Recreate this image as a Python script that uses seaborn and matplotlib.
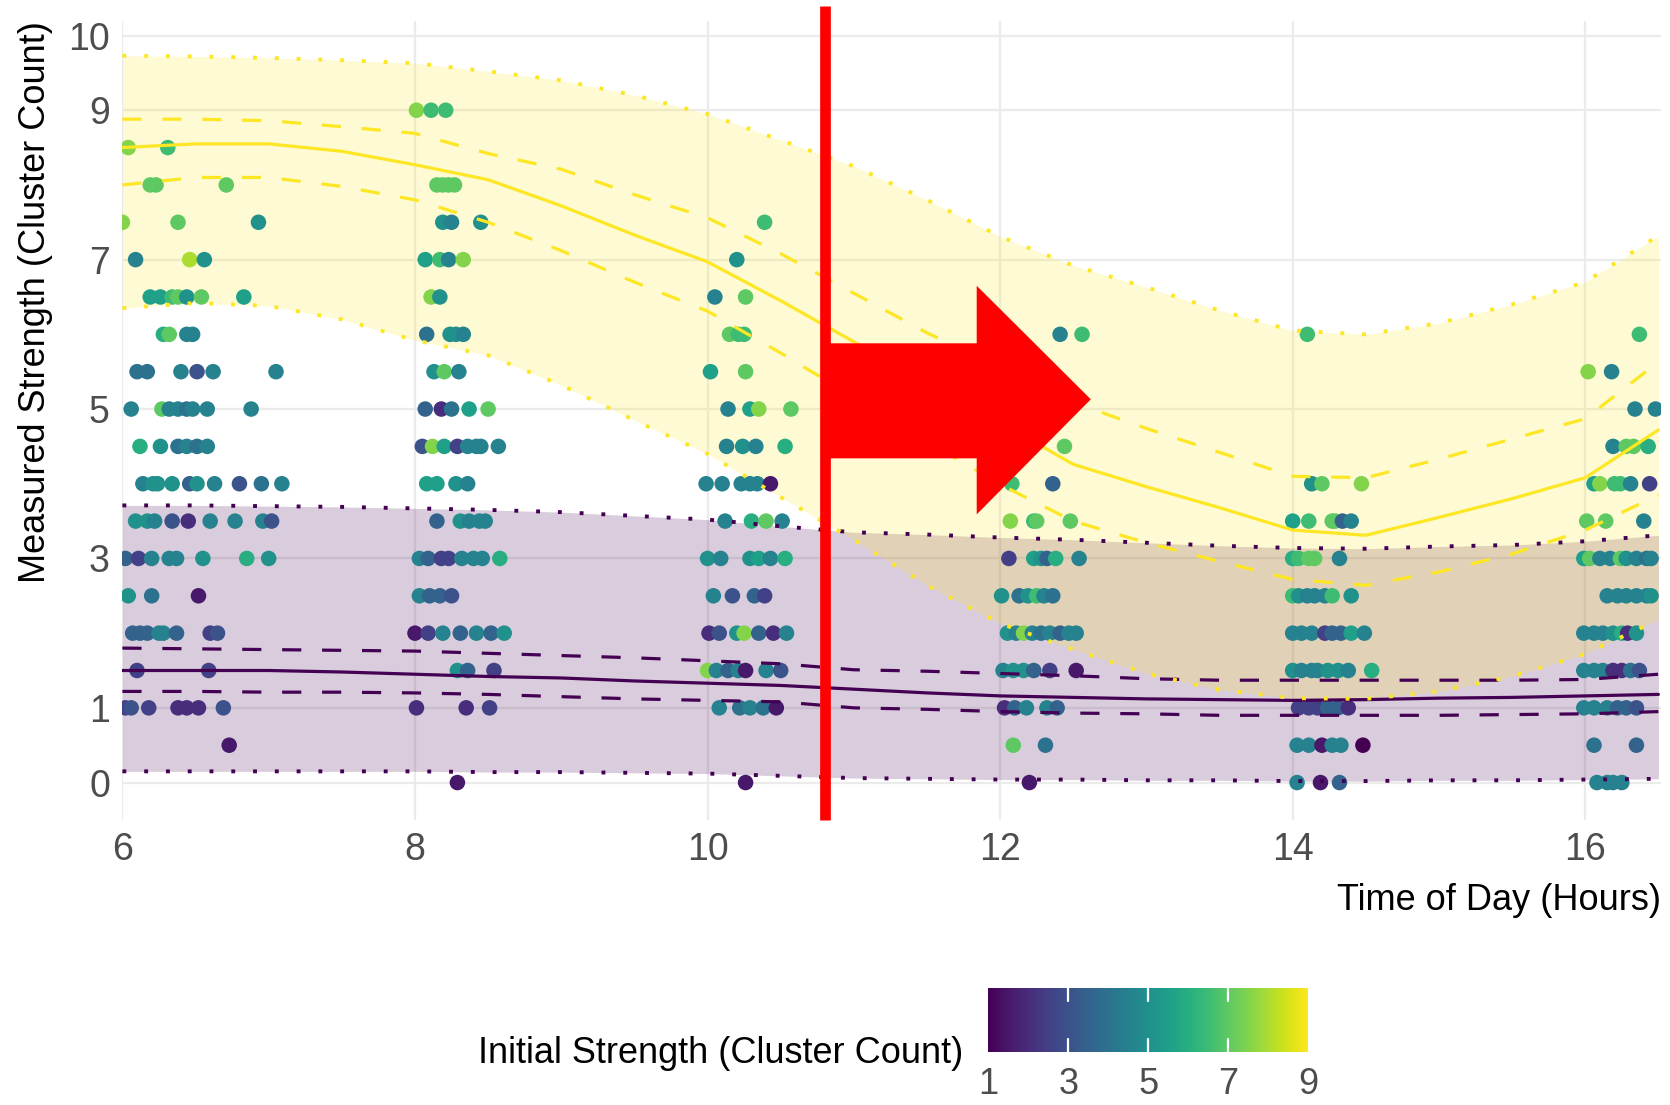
import numpy as np
import pandas as pd
import matplotlib
matplotlib.use("Agg")
from matplotlib import pyplot as plt
from matplotlib import font_manager
from matplotlib.patches import Polygon
from matplotlib.cm import ScalarMappable
from matplotlib.colors import Normalize
import seaborn as sns

# observations: (hour, measured strength, initial strength)
pts_06 = [(6.04, 8.5, 7.5), (6.31, 8.5, 6.5),
          (6.19, 8, 7), (6.23, 8, 7), (6.71, 8, 7),
          (6.0, 7.5, 7.5), (6.38, 7.5, 7), (6.93, 7.5, 5),
          (6.09, 7, 4.5), (6.46, 7, 8), (6.56, 7, 5),
          (6.19, 6.5, 5.5), (6.26, 6.5, 5.5), (6.34, 6.5, 6.5), (6.38, 6.5, 7), (6.44, 6.5, 5), (6.54, 6.5, 7), (6.83, 6.5, 5.5),
          (6.28, 6, 6), (6.32, 6, 7), (6.44, 6, 4.5), (6.48, 6, 4.5),
          (6.1, 5.5, 4), (6.17, 5.5, 4), (6.4, 5.5, 4.5), (6.51, 5.5, 3), (6.62, 5.5, 4.5), (7.05, 5.5, 4.5),
          (6.06, 5, 4.5), (6.27, 5, 7), (6.32, 5, 4.5), (6.38, 5, 4.5), (6.44, 5, 4), (6.48, 5, 4.5), (6.58, 5, 4.5), (6.88, 5, 4.5),
          (6.12, 4.5, 6), (6.26, 4.5, 5), (6.38, 4.5, 4), (6.44, 4.5, 4.5), (6.51, 4.5, 4), (6.58, 4.5, 4.5),
          (6.14, 4, 4.5), (6.21, 4, 5), (6.24, 4, 5), (6.34, 4, 5), (6.46, 4, 3.5), (6.51, 4, 5), (6.63, 4, 4.5), (6.8, 4, 3), (6.95, 4, 4), (7.09, 4, 4.5),
          (6.09, 3.5, 5), (6.17, 3.5, 5), (6.22, 3.5, 4.5), (6.34, 3.5, 3), (6.45, 3.5, 2), (6.6, 3.5, 4.5), (6.77, 3.5, 4.5), (6.96, 3.5, 4.5), (7.02, 3.5, 3),
          (6.02, 3, 3.5), (6.11, 3, 2.5), (6.2, 3, 4.5), (6.32, 3, 4.5), (6.37, 3, 4.5), (6.55, 3, 5), (6.85, 3, 6), (7.0, 3, 5),
          (6.04, 2.5, 5), (6.2, 2.5, 4), (6.52, 2.5, 1.5),
          (6.07, 2, 3.5), (6.12, 2, 3.5), (6.17, 2, 3.5), (6.25, 2, 4.5), (6.28, 2, 4.5), (6.37, 2, 3.5), (6.6, 2, 2.5), (6.65, 2, 3),
          (6.1, 1.5, 2.5), (6.59, 1.5, 2.5),
          (6.02, 1, 2.5), (6.06, 1, 3), (6.18, 1, 2.5), (6.38, 1, 2), (6.44, 1, 2), (6.52, 1, 2), (6.69, 1, 3),
          (6.73, 0.5, 1.5)]

pts_08 = [(8.01, 9, 7.5), (8.11, 9, 6.5), (8.21, 9, 6.5),
          (8.15, 8, 7), (8.19, 8, 7), (8.23, 8, 7), (8.27, 8, 7),
          (8.19, 7.5, 5), (8.25, 7.5, 4.5), (8.45, 7.5, 5),
          (8.07, 7, 5.5), (8.17, 7, 6.5), (8.23, 7, 4.5), (8.33, 7, 7.5),
          (8.11, 6.5, 7.5), (8.17, 6.5, 5),
          (8.08, 6, 4), (8.24, 6, 5), (8.28, 6, 5), (8.33, 6, 4.5),
          (8.13, 5.5, 5), (8.2, 5.5, 7), (8.3, 5.5, 4.5),
          (8.07, 5, 3.5), (8.18, 5, 2), (8.25, 5, 4), (8.37, 5, 5.5), (8.5, 5, 7),
          (8.05, 4.5, 3), (8.12, 4.5, 7.5), (8.2, 4.5, 5.5), (8.29, 4.5, 2.5), (8.36, 4.5, 4.5), (8.42, 4.5, 4.5), (8.45, 4.5, 4.5), (8.57, 4.5, 4.5),
          (8.08, 4, 5.5), (8.15, 4, 5.5), (8.28, 4, 5), (8.36, 4, 4.5),
          (8.15, 3.5, 3.5), (8.31, 3.5, 5), (8.37, 3.5, 4.5), (8.44, 3.5, 4.5), (8.48, 3.5, 4.5),
          (8.03, 3, 4.5), (8.09, 3, 3.5), (8.18, 3, 2.5), (8.23, 3, 2.5), (8.32, 3, 4.5), (8.4, 3, 4.5), (8.46, 3, 4.5), (8.58, 3, 6),
          (8.03, 2.5, 4.5), (8.1, 2.5, 3.5), (8.17, 2.5, 3.5), (8.25, 2.5, 3),
          (8.0, 2, 1.5), (8.09, 2, 2.5), (8.19, 2, 4.5), (8.31, 2, 3.5), (8.42, 2, 4.5), (8.52, 2, 3.5), (8.61, 2, 5),
          (8.29, 1.5, 5), (8.36, 1.5, 3.5), (8.54, 1.5, 2.5),
          (8.01, 1, 2), (8.35, 1, 2), (8.51, 1, 2.5),
          (8.29, 0, 1.5)]

pts_10 = [(10.39, 7.5, 6.5),
          (10.2, 7, 5),
          (10.05, 6.5, 4.5), (10.26, 6.5, 7),
          (10.15, 6, 7), (10.21, 6, 6.5), (10.25, 6, 6.5),
          (10.02, 5.5, 5.5), (10.26, 5.5, 7),
          (10.14, 5, 4.5), (10.29, 5, 5.5), (10.35, 5, 7.5), (10.57, 5, 7),
          (10.13, 4.5, 4.5), (10.24, 4.5, 5), (10.33, 4.5, 4.5), (10.53, 4.5, 6),
          (9.99, 4, 4.5), (10.1, 4, 4.5), (10.23, 4, 4.5), (10.29, 4, 4.5), (10.34, 4, 4.5), (10.43, 4, 1.5),
          (10.12, 3.5, 4.5), (10.3, 3.5, 6), (10.4, 3.5, 7), (10.51, 3.5, 4.5),
          (10.0, 3, 5), (10.09, 3, 4.5), (10.29, 3, 5), (10.35, 3, 5.5), (10.43, 3, 4.5), (10.53, 3, 6),
          (10.04, 2.5, 4.5), (10.17, 2.5, 3), (10.32, 2.5, 3.5), (10.39, 2.5, 2.5),
          (10.01, 2, 2), (10.08, 2, 3), (10.2, 2, 5), (10.25, 2, 7.5), (10.35, 2, 3.5), (10.45, 2, 2), (10.54, 2, 4.5),
          (10.0, 1.5, 7.5), (10.06, 1.5, 4.5), (10.14, 1.5, 3.5), (10.21, 1.5, 4.5), (10.26, 1.5, 1.5), (10.4, 1.5, 4.5), (10.5, 1.5, 3),
          (10.08, 1, 4.5), (10.22, 1, 4), (10.29, 1, 4.5), (10.38, 1, 4), (10.47, 1, 1.5),
          (10.26, 0, 1.5)]

pts_12 = [(12.41, 6, 4.5), (12.56, 6, 6.5),
          (12.44, 4.5, 7),
          (12.08, 4, 6.5), (12.36, 4, 3.5),
          (12.07, 3.5, 7.5), (12.23, 3.5, 6.5), (12.25, 3.5, 7), (12.48, 3.5, 7),
          (12.06, 3, 2.5), (12.23, 3, 5.5), (12.28, 3, 5), (12.32, 3, 3.5), (12.38, 3, 6), (12.54, 3, 4.5),
          (12.01, 2.5, 5), (12.13, 2.5, 4), (12.19, 2.5, 5), (12.25, 2.5, 6.5), (12.3, 2.5, 4.5), (12.36, 2.5, 4),
          (12.05, 2, 5), (12.11, 2, 4.5), (12.16, 2, 7.5), (12.22, 2, 4.5), (12.28, 2, 4), (12.34, 2, 4.5), (12.41, 2, 3.5), (12.47, 2, 4.5), (12.52, 2, 4.5),
          (12.02, 1.5, 4.5), (12.09, 1.5, 5), (12.16, 1.5, 5), (12.23, 1.5, 3.5), (12.34, 1.5, 2.5), (12.52, 1.5, 1.5),
          (12.03, 1, 2), (12.1, 1, 3.5), (12.18, 1, 4.5), (12.32, 1, 4.5), (12.39, 1, 3.5),
          (12.09, 0.5, 7), (12.31, 0.5, 4),
          (12.2, 0, 1.5)]

pts_14 = [(14.1, 6, 6.5),
          (14.13, 4, 5), (14.2, 4, 7), (14.47, 4, 7.5),
          (14.0, 3.5, 5.5), (14.11, 3.5, 6.5), (14.27, 3.5, 7), (14.29, 3.5, 7), (14.34, 3.5, 3.5), (14.4, 3.5, 4.5),
          (14.0, 3, 6), (14.04, 3, 6.5), (14.11, 3, 7), (14.15, 3, 7), (14.32, 3, 4.5),
          (14.0, 2.5, 6.5), (14.04, 2.5, 5), (14.1, 2.5, 4.5), (14.15, 2.5, 4.5), (14.22, 2.5, 4.5), (14.27, 2.5, 6.5), (14.4, 2.5, 5),
          (14.0, 2, 4.5), (14.06, 2, 4.5), (14.13, 2, 4.5), (14.22, 2, 2.5), (14.27, 2, 3.5), (14.33, 2, 3.5), (14.4, 2, 5.5), (14.49, 2, 4.5),
          (14.0, 1.5, 5), (14.06, 1.5, 4.5), (14.13, 1.5, 4.5), (14.17, 1.5, 4.5), (14.24, 1.5, 5), (14.31, 1.5, 5), (14.38, 1.5, 4.5), (14.54, 1.5, 6),
          (14.04, 1, 2.5), (14.11, 1, 2.5), (14.17, 1, 2.5), (14.24, 1, 3.5), (14.31, 1, 3.5), (14.38, 1, 2),
          (14.03, 0.5, 4.5), (14.11, 0.5, 4.5), (14.2, 0.5, 1.5), (14.27, 0.5, 4.5), (14.33, 0.5, 4.5), (14.48, 0.5, 1),
          (14.03, 0, 4.5), (14.19, 0, 1.5), (14.32, 0, 3.5)]

pts_16 = [(16.37, 6, 6.5),
          (16.02, 5.5, 7.5), (16.18, 5.5, 4.5),
          (16.34, 5, 4.5), (16.48, 5, 4.5),
          (16.19, 4.5, 4.5), (16.28, 4.5, 7), (16.33, 4.5, 7), (16.43, 4.5, 6),
          (16.06, 4, 5.5), (16.1, 4, 7.5), (16.2, 4, 6.5), (16.24, 4, 6.5), (16.31, 4, 4.5), (16.44, 4, 2.5),
          (16.01, 3.5, 7), (16.14, 3.5, 7), (16.4, 3.5, 4.5),
          (15.99, 3, 5.5), (16.03, 3, 7), (16.1, 3, 4.5), (16.17, 3, 4.5), (16.24, 3, 7), (16.28, 3, 5), (16.35, 3, 4.5), (16.42, 3, 4), (16.45, 3, 4.5),
          (16.15, 2.5, 4.5), (16.22, 2.5, 4.5), (16.28, 2.5, 4.5), (16.35, 2.5, 4.5), (16.42, 2.5, 4.5), (16.45, 2.5, 5),
          (15.99, 2, 4.5), (16.06, 2, 4.5), (16.12, 2, 4.5), (16.19, 2, 5), (16.25, 2, 6), (16.29, 2, 2), (16.35, 2, 5),
          (15.99, 1.5, 4.5), (16.06, 1.5, 4.5), (16.12, 1.5, 4.5), (16.19, 1.5, 2), (16.25, 1.5, 2), (16.31, 1.5, 4), (16.37, 1.5, 3),
          (15.99, 1, 4.5), (16.06, 1, 4.5), (16.15, 1, 4.5), (16.22, 1, 3.5), (16.28, 1, 3.5), (16.35, 1, 3),
          (16.06, 0.5, 4), (16.35, 0.5, 3.5),
          (16.08, 0, 4.5), (16.15, 0, 4.5), (16.19, 0, 4.5), (16.25, 0, 4.5)]

# model curves, read at half-hour steps
hours = [6.0, 6.5, 7.0, 7.5, 8.0, 8.5, 9.0, 9.5, 10.0, 10.5, 11.0,
         11.5, 12.0, 12.5, 13.0, 13.5, 14.0, 14.5, 15.0, 15.5, 16.0, 16.5]

hi_fit = [8.50, 8.55, 8.55, 8.45, 8.27, 8.07, 7.72, 7.33, 6.97, 6.45, 5.90,
          5.36, 4.82, 4.26, 3.96, 3.68, 3.38, 3.31, 3.55, 3.80, 4.08, 4.72]
hi_ci_hi = [8.88, 8.88, 8.86, 8.78, 8.69, 8.42, 8.21, 7.87, 7.56, 7.08, 6.55,
            6.02, 5.56, 5.09, 4.74, 4.42, 4.10, 4.08, 4.33, 4.60, 4.87, 5.63]
hi_ci_lo = [8.00, 8.10, 8.10, 7.98, 7.80, 7.50, 7.12, 6.70, 6.31, 5.75, 5.16,
            4.57, 3.99, 3.50, 3.21, 2.96, 2.72, 2.64, 2.82, 3.06, 3.38, 3.85]
hi_pi_hi = [9.73, 9.72, 9.70, 9.67, 9.63, 9.52, 9.40, 9.20, 8.95, 8.60, 8.25,
            7.80, 7.31, 6.92, 6.63, 6.32, 6.05, 6.00, 6.15, 6.40, 6.70, 7.32]
hi_pi_lo = [6.35, 6.42, 6.38, 6.20, 5.92, 5.72, 5.32, 4.85, 4.40, 3.82, 3.25,
            2.64, 2.13, 1.78, 1.46, 1.24, 1.13, 1.12, 1.22, 1.42, 1.72, 2.18]

lo_fit = [1.50, 1.50, 1.50, 1.48, 1.45, 1.42, 1.40, 1.36, 1.33, 1.30, 1.25,
          1.20, 1.16, 1.14, 1.12, 1.11, 1.10, 1.11, 1.13, 1.14, 1.16, 1.18]
lo_ci_hi = [1.80, 1.79, 1.78, 1.77, 1.76, 1.73, 1.70, 1.67, 1.63, 1.59, 1.51,
            1.49, 1.46, 1.43, 1.39, 1.37, 1.37, 1.37, 1.37, 1.37, 1.38, 1.45]
lo_ci_lo = [1.22, 1.22, 1.21, 1.21, 1.20, 1.18, 1.15, 1.12, 1.10, 1.08, 1.00,
            0.98, 0.95, 0.93, 0.92, 0.90, 0.90, 0.90, 0.90, 0.91, 0.92, 0.95]
lo_pi_hi = [3.71, 3.71, 3.70, 3.69, 3.67, 3.65, 3.62, 3.57, 3.52, 3.43, 3.35,
            3.32, 3.28, 3.25, 3.21, 3.17, 3.14, 3.13, 3.16, 3.18, 3.23, 3.31]
lo_pi_lo = [0.15, 0.15, 0.15, 0.15, 0.15, 0.14, 0.14, 0.13, 0.12, 0.09, 0.06,
            0.05, 0.04, 0.04, 0.03, 0.03, 0.02, 0.02, 0.03, 0.03, 0.04, 0.05]

y_ticks = [0, 1, 3, 5, 7, 9, 10]
x_ticks = [6, 8, 10, 12, 14, 16]
cbar_ticks = [1, 3, 5, 7, 9]

YELLOW = "#FDE725"
PURPLE = "#440154"
GREY = "#4D4D4D"

sns.set_theme(style="white")
fam = "DejaVu Sans"
for cand in ["Liberation Sans Narrow", "Liberation Sans", "Arial"]:
    try:
        font_manager.findfont(cand, fallback_to_default=False)
        fam = cand
        break
    except Exception:
        pass
plt.rcParams["font.family"] = [fam, "DejaVu Sans"]
narrow = fam == "Liberation Sans Narrow"
title_size = 27 if narrow else 26

pts = pts_06 + pts_08 + pts_10 + pts_12 + pts_14 + pts_16
df = pd.DataFrame(pts, columns=["hour", "measured", "initial"])
curves = pd.DataFrame({"hour": hours,
                       "hi_fit": hi_fit, "hi_ci_hi": hi_ci_hi, "hi_ci_lo": hi_ci_lo,
                       "hi_pi_hi": hi_pi_hi, "hi_pi_lo": hi_pi_lo,
                       "lo_fit": lo_fit, "lo_ci_hi": lo_ci_hi, "lo_ci_lo": lo_ci_lo,
                       "lo_pi_hi": lo_pi_hi, "lo_pi_lo": lo_pi_lo})

fig = plt.figure(figsize=(16.7, 11.05), dpi=100)
ax = fig.add_axes([0.0733, 0.258, 0.9215, 0.7227])

# prediction bands
ax.fill_between(curves["hour"], curves["lo_pi_lo"], curves["lo_pi_hi"],
                color=PURPLE, alpha=0.2, linewidth=0, zorder=1)
ax.fill_between(curves["hour"], curves["hi_pi_lo"], curves["hi_pi_hi"],
                color=YELLOW, alpha=0.2, linewidth=0, zorder=1)

sns.scatterplot(data=df, x="hour", y="measured", hue="initial",
                palette="viridis", hue_norm=(1, 9), s=125, linewidth=0,
                alpha=1, legend=False, ax=ax, zorder=3)

dotted = (0, (1, 4.6))
dashed = (0, (6, 6.5))
for grp, col in [("lo", PURPLE), ("hi", YELLOW)]:
    sns.lineplot(data=curves, x="hour", y=grp + "_fit", color=col, lw=2.3,
                 estimator=None, ax=ax, zorder=4)
    for part in ["_ci_hi", "_ci_lo"]:
        sns.lineplot(data=curves, x="hour", y=grp + part, color=col, lw=2.3,
                     linestyle=dashed, estimator=None, ax=ax, zorder=4)
    for part in ["_pi_hi", "_pi_lo"]:
        sns.lineplot(data=curves, x="hour", y=grp + part, color=col, lw=2.8,
                     linestyle=dotted, estimator=None, ax=ax, zorder=4)

ax.set_xlim(6, 16.52)
ax.set_ylim(-0.5, 10.19)
ax.set_xticks(x_ticks)
ax.set_yticks(y_ticks)
ax.grid(True, color="#EBEBEB", lw=1.6, zorder=0)
ax.set_axisbelow(True)
for sp in ax.spines.values():
    sp.set_visible(False)
ax.tick_params(length=0, labelsize=27, labelcolor=GREY, pad=9)
ax.set_xlabel("")
ax.set_ylabel("")

fig.text(0.9948, 0.1855, "Time of Day (Hours)", ha="right", va="center",
         fontsize=title_size, color="black")
fig.text(0.021, 0.981, "Measured Strength (Cluster Count)", ha="center", va="top",
         rotation=90, fontsize=title_size, color="black")

# red annotation: marker line and arrow
ax.plot([10.8, 10.8], [-0.5, 10.4], color="#FF0000", lw=7.7, clip_on=False,
        solid_capstyle="butt", zorder=6)
arrow = Polygon([(10.8, 4.34), (11.84, 4.34), (11.84, 3.59), (12.62, 5.13),
                 (11.84, 6.65), (11.84, 5.88), (10.8, 5.88)],
                closed=True, color="#FF0000", lw=0, zorder=6)
ax.add_patch(arrow)

# colour bar
cax = fig.add_axes([0.5918, 0.048, 0.1916, 0.058])
sm = ScalarMappable(norm=Normalize(1, 9), cmap="viridis")
cb = fig.colorbar(sm, cax=cax, orientation="horizontal", ticks=cbar_ticks)
cb.outline.set_visible(False)
cax.tick_params(axis="x", length=0, labelsize=26, labelcolor=GREY, pad=11)
for t in cbar_ticks[1:-1]:
    cax.axvline(t, 0, 0.2, color="white", lw=1.6, zorder=5)
    cax.axvline(t, 0.8, 1, color="white", lw=1.6, zorder=5)
fig.text(0.577, 0.047, "Initial Strength (Cluster Count)", ha="right",
         va="center", fontsize=title_size, color="black")

fig.savefig("out.png", dpi=100)
